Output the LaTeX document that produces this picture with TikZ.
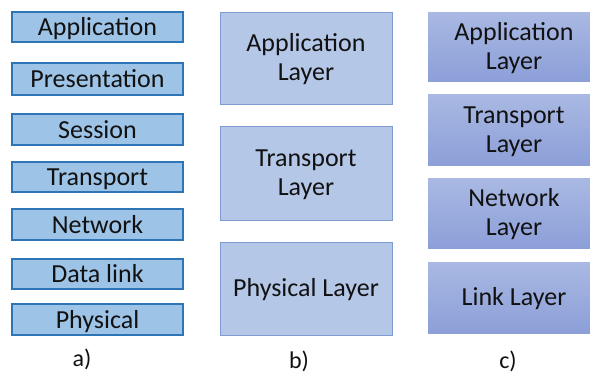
\documentclass[tikz,border=0pt]{standalone}
\usepackage{fontspec}
\setmainfont{Carlito}
\definecolor{afill}{HTML}{9DC3E6}
\definecolor{aline}{HTML}{2E75B6}
\definecolor{bfill}{HTML}{B4C7E7}
\definecolor{bline}{HTML}{7F9CD2}
\definecolor{ctop}{HTML}{A9B9E3}
\definecolor{cbot}{HTML}{8C9FD8}
\definecolor{txt}{HTML}{111111}
\newcommand\lyrtext[2]{\raisebox{#1}[\height][\depth]{\begin{tabular}{@{}c@{}}#2\end{tabular}}}
\begin{document}
\begin{tikzpicture}[x=1bp,y=-1bp,
  every node/.style={font=\fontsize{26bp}{29bp}\selectfont, text=txt, align=center, inner sep=0pt},
  abox/.style={draw=aline, line width=1.3bp, fill=afill, minimum width=171bp},
  bbox/.style={draw=bline, line width=0.9bp, fill=bfill, minimum width=172bp},
  cbox/.style={top color=ctop, bottom color=cbot, draw=none, minimum width=172bp},
  lbl/.style={font=\fontsize{24bp}{26bp}\selectfont}]
\clip (0,0) rectangle (590,374);
\fill[white] (0,0) rectangle (590,374);
% column a
\node[abox, minimum height=30bp] (a1) at (97.5,27) {\lyrtext{-3bp}{Application}};
\node[abox, minimum height=32bp] (a2) at (97.5,79) {\lyrtext{-3bp}{Presentation}};
\node[abox, minimum height=31bp] (a3) at (97.5,129.5) {\lyrtext{-3bp}{Session}};
\node[abox, minimum height=30bp] (a4) at (97.5,177) {\lyrtext{-3bp}{Transport}};
\node[abox, minimum height=31bp] (a5) at (97.5,224.5) {\lyrtext{-3bp}{Network}};
\node[abox, minimum height=30bp] (a6) at (97.5,274) {\lyrtext{-3bp}{Data link}};
\node[abox, minimum height=31bp] (a7) at (97.5,319.5) {\lyrtext{-3bp}{Physical}};
\node[lbl] (la) at (82,359) {a)};
% column b
\node[bbox, minimum height=92bp] (b1) at (306,58) {\lyrtext{-2.5bp}{Application\\Layer}};
\node[bbox, minimum height=94bp] (b2) at (306,173) {\lyrtext{-2.5bp}{Transport\\Layer}};
\node[bbox, minimum height=93bp] (b3) at (306,288.5) {\lyrtext{-2.5bp}{Physical Layer}};
\node[lbl] (lb) at (299,361) {b)};
% column c
\node[cbox, minimum height=69bp] (c1) at (514,46.5) {\lyrtext{-2.5bp}{Application\\Layer}};
\node[cbox, minimum height=71bp] (c2) at (514,129.5) {\lyrtext{-2.5bp}{Transport\\Layer}};
\node[cbox, minimum height=70bp] (c3) at (514,213) {\lyrtext{-2.5bp}{Network\\Layer}};
\node[cbox, minimum height=71bp] (c4) at (514,297.5) {\lyrtext{-2.5bp}{Link Layer}};
\node[lbl] (lc) at (508,361) {c)};
\end{tikzpicture}
\end{document}
